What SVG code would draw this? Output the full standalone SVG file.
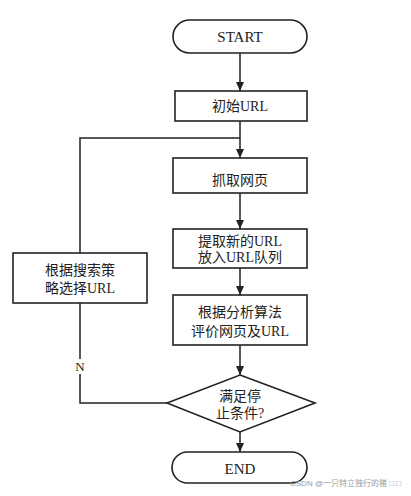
<svg xmlns="http://www.w3.org/2000/svg" width="411" height="496" viewBox="0 0 411 496">
<style>
.shape{fill:#fff;stroke:#222;stroke-width:1.6}
.line{fill:none;stroke:#222;stroke-width:1.5}
.t{font-family:"Liberation Serif","Noto Sans CJK SC",serif;font-size:14px;fill:#222;text-anchor:middle;dominant-baseline:central}
.wm{font-family:"Liberation Sans","Noto Sans CJK SC",sans-serif;font-size:8px;fill:#999}
</style>
<defs>
<marker id="arr" markerWidth="10" markerHeight="10" refX="9" refY="5" orient="auto" markerUnits="userSpaceOnUse">
<path d="M0,1 L9,5 L0,9 Z" fill="#222"/>
</marker>
</defs>
<rect width="411" height="496" fill="#fff"/>
<g id="connectors">
<line class="line" x1="240" y1="53" x2="240" y2="91" marker-end="url(#arr)"/>
<line class="line" x1="240" y1="121" x2="240" y2="158" marker-end="url(#arr)"/>
<line class="line" x1="240" y1="193" x2="240" y2="229" marker-end="url(#arr)"/>
<line class="line" x1="240" y1="268" x2="240" y2="295" marker-end="url(#arr)"/>
<line class="line" x1="240" y1="345" x2="240" y2="375" marker-end="url(#arr)"/>
<line class="line" x1="240" y1="432" x2="240" y2="452" marker-end="url(#arr)"/>
<path class="line" d="M167,403 H80 V138 H240"/>
<rect x="74" y="359" width="12" height="15" fill="#fff"/>
<text class="t" x="80" y="366" style="font-size:13px">N</text>
</g>
<g id="start">
<rect class="shape" x="173" y="20" width="134" height="33" rx="16.5"/>
<text class="t" x="240" y="37" style="font-size:15px">START</text>
</g>
<g id="init">
<rect class="shape" x="175" y="91" width="132" height="30"/>
<text class="t" x="240" y="106">初始URL</text>
</g>
<g id="fetch">
<rect class="shape" x="173" y="158" width="134" height="35"/>
<text class="t" x="240" y="180">抓取网页</text>
</g>
<g id="extract">
<rect class="shape" x="173" y="229" width="134" height="39"/>
<text class="t" x="240" y="241">提取新的URL</text>
<text class="t" x="240" y="257">放入URL队列</text>
</g>
<g id="evaluate">
<rect class="shape" x="173" y="295" width="134" height="50"/>
<text class="t" x="240" y="312">根据分析算法</text>
<text class="t" x="240" y="331">评价网页及URL</text>
</g>
<g id="select">
<rect class="shape" x="13" y="253" width="134" height="50"/>
<text class="t" x="80" y="270">根据搜索策</text>
<text class="t" x="80" y="288">略选择URL</text>
</g>
<g id="decision">
<polygon class="shape" points="240,375 315,403 240,432 167,403"/>
<text class="t" x="240" y="396">满足停</text>
<text class="t" x="240" y="413">止条件?</text>
</g>
<g id="end">
<rect class="shape" x="172" y="452" width="135" height="31" rx="15.5"/>
<text class="t" x="240" y="469" style="font-size:15px">END</text>
</g>
<text class="wm" x="290" y="486">CSDN @一只特立独行的猪 □ □</text>
</svg>
